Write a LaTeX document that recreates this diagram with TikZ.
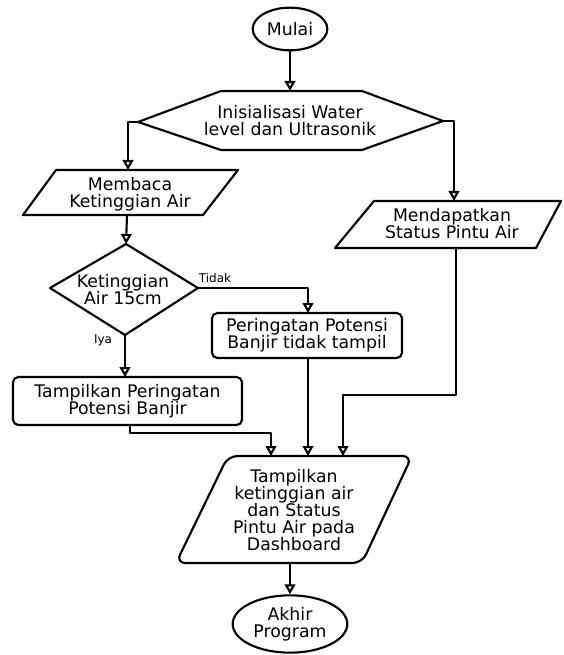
\documentclass[tikz,border=0pt]{standalone}
\usepackage{fontspec}
\setmainfont{DejaVu Sans}
\usetikzlibrary{arrows.meta,shapes.geometric}
\begin{document}
\begin{tikzpicture}[x=0.75pt,y=-0.75pt,
  line width=1.6pt, line join=round,
  lbl/.style={font=\fontsize{13}{12.8}\selectfont, align=center, inner sep=0pt},
  small/.style={font=\fontsize{9}{10}\selectfont, inner sep=0pt},
  term/.style={ellipse, draw, lbl},
  boxr/.style={rectangle, rounded corners=4pt, draw, lbl},
  outline/.style={draw, line width=1.6pt},
  arr/.style={-{Triangle[open,length=7.5pt,width=8pt]}, line width=1.6pt}]
\useasboundingbox (0,0) rectangle (563,655);

% Start
\node[term, minimum width=56pt, minimum height=32pt] (start) at (290,29) {Mulai};

% Hexagon (initialisation)
\coordinate (hT) at (290,91);
\coordinate (hL) at (138,122);
\coordinate (hR) at (443,121);
\draw[outline] (hL) -- (221,91) -- (362,91) -- (hR) -- (362,150) -- (221,150) -- cycle;
\node[lbl] (init) at (290,121) {Inisialisasi Water\\level dan Ultrasonik};

% Membaca
\coordinate (membT) at (128,170);
\coordinate (membB) at (127,215);
\draw[outline] (56,170) -- (238,170) -- (203,215) -- (23,215) -- cycle;
\node[lbl] (memb) at (130,194) {Membaca\\Ketinggian Air};

% Mendapatkan
\coordinate (mendT) at (454,201);
\coordinate (mendB) at (456,248);
\draw[outline] (374,201) -- (561,201) -- (536,248) -- (335,248) -- cycle;
\node[lbl] (mend) at (452,224) {Mendapatkan\\Status Pintu Air};

% Decision
\coordinate (dT) at (126,244);
\coordinate (dR) at (198,288);
\coordinate (dB) at (125,335);
\coordinate (dL) at (50,288);
\draw[outline] (dT) -- (dR) -- (dB) -- (dL) -- cycle;
\node[lbl] (dec) at (123,290) {Ketinggian\\Air 15cm};
\node[small] (tidak) at (215,278) {Tidak};
\node[small] (iya) at (103,340) {Iya};

% Peringatan tidak tampil
\node[boxr, minimum width=142.5pt, minimum height=33.75pt] (per) at (307,335.5) {Peringatan Potensi\\Banjir tidak tampil};
\coordinate (perT) at (308,313);
\coordinate (perB) at (308,358);

% Tampilkan peringatan
\node[boxr, minimum width=171.75pt, minimum height=36pt] (tam) at (127.5,401) {Tampilkan Peringatan\\Potensi Banjir};
\coordinate (tamT) at (125,377);
\coordinate (tamB) at (130,425);

% Dashboard
\coordinate (dashT1) at (271,456);
\coordinate (dashT2) at (308,456);
\coordinate (dashT3) at (343,456);
\coordinate (dashB) at (290,563);
\draw[outline, rounded corners=7pt] (228,456) -- (412,456) -- (362,563) -- (176,563) -- cycle;
\node[lbl] (dash) at (294,510) {Tampilkan\\ketinggian air\\dan Status\\Pintu Air pada\\Dashboard};

% End
\node[term, minimum width=86pt, minimum height=43pt] (akhir) at (290,624) {Akhir\\Program};

% Connectors
\draw[arr] (start) -- (hT);
\draw[arr] (hL) -| (membT);
\draw[arr] (hR) -| (mendT);
\draw[arr] (membB) -- (dT);
\draw[arr] (dR) -| (perT);
\draw[arr] (dB) -- (tamT);
\draw[arr] (tamB) -- ++(0,8) -| (dashT1);
\draw[arr] (perB) -- (dashT2);
\draw[arr] (mendB) -- ++(0,147) -| (dashT3);
\draw[arr] (dashB) -- (akhir);
\end{tikzpicture}
\end{document}
